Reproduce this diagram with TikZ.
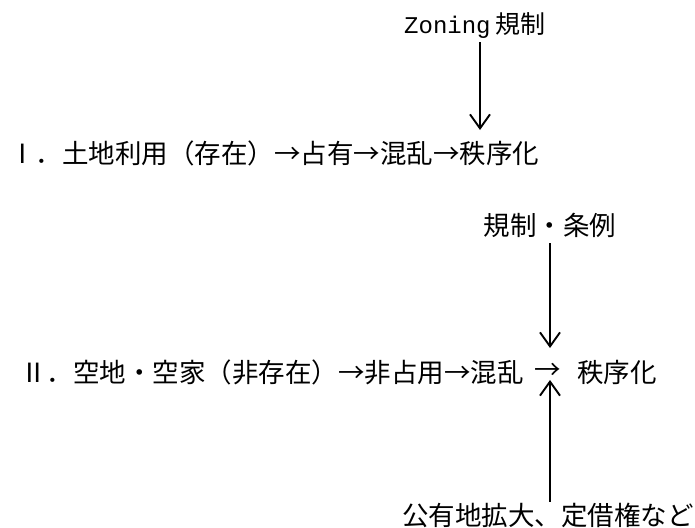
\documentclass[tikz,border=0pt]{standalone}
\usepackage{fontspec}
\setmainfont{Noto Sans CJK JP}
\newfontfamily\monofnt{Liberation Mono}
\usetikzlibrary{arrows.meta}
\begin{document}
\begin{tikzpicture}[x=1pt,y=-1pt,
  txt/.style={inner sep=0pt, font=\fontsize{26.5}{30}\selectfont, text height=23.3pt, text depth=3.2pt},
  arr/.style={line width=1.9pt, -{Straight Barb[length=14pt,width=20pt,line width=1.9pt]}}]
\useasboundingbox[fill=white] (0,0) rectangle (695,527);
% labels
\node[txt, anchor=west] (z) at (404,23) {{\monofnt\fontsize{24}{28}\selectfont Zoning}\hspace{5pt}{\fontsize{25}{28}\selectfont 規制}};
\node[txt, anchor=west] (l1) at (9,153) {Ⅰ．土地利用（存在）→占有→混乱→秩序化};
\node[txt] (k) at (550,225) {規制・条例};
\node[txt, anchor=west] (l2) at (20,372) {Ⅱ．空地・空家（非存在）→非占用→混乱};
\node[txt] (mid) at (548,369) {→};
\node[txt, anchor=west] (l2r) at (577,372) {秩序化};
\node[txt] (b) at (548,515) {公有地拡大、定借権など};
% arrow targets
\coordinate (t1) at (480,130);
\coordinate (t2) at (550,348);
\coordinate (t3) at (550,380);
% connectors
\draw[arr] (z.south -| t1) ++(0,6) -- (t1);
\draw[arr] (k.south -| t2) ++(0,5) -- (t2);
\draw[arr] (b.north -| t3) -- (t3);
\end{tikzpicture}
\end{document}
